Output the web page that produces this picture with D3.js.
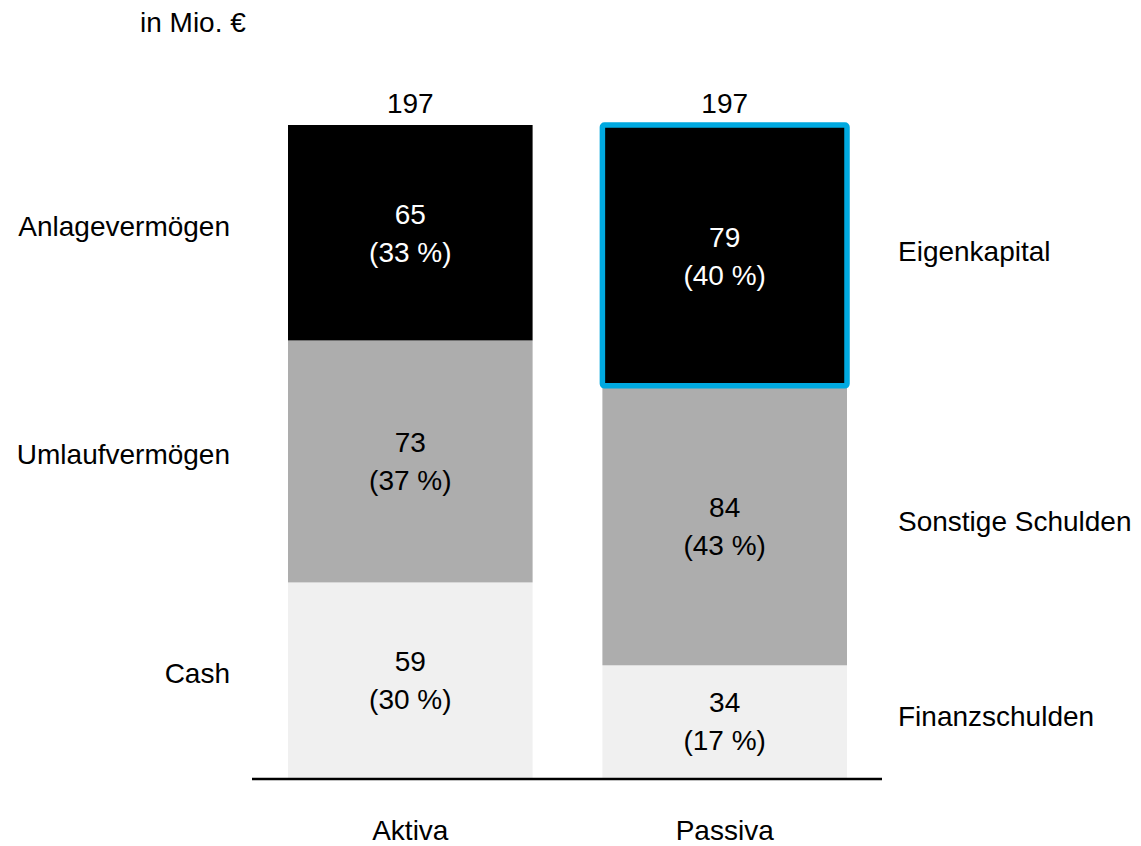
<!DOCTYPE html>
<html>
<head>
<meta charset="utf-8">
<script src="https://cdn.jsdelivr.net/npm/d3@7"></script>
<style>
  html, body { margin: 0; padding: 0; background: #fff; }
  svg text { font-family: "Liberation Sans", Arial, sans-serif; font-size: 28px; }
</style>
</head>
<body>
<svg id="chart" width="1141" height="846"></svg>
<script>
const categories = ["Aktiva", "Passiva"];
const totals = [197, 197];
const aktivaLabels = ["Cash", "Umlaufvermögen", "Anlagevermögen"];
const aktivaValues = [59, 73, 65];
const aktivaPct = [30, 37, 33];
const passivaLabels = ["Finanzschulden", "Sonstige Schulden", "Eigenkapital"];
const passivaValues = [34, 84, 79];
const passivaPct = [17, 43, 40];
const unitLabel = "in Mio. €";
const highlighted = { category: "Passiva", label: "Eigenkapital" };

const layerColors = ["#f0f0f0", "#adadad", "#000000"];
const layerTextColors = ["#000000", "#000000", "#ffffff"];

const svg = d3.select("#chart");

const x = d3.scaleBand().domain(categories).range([288, 847]).paddingInner(0.222).paddingOuter(0);
const y = d3.scaleLinear().domain([0, 197]).range([778, 125]);

const series = [
  { cat: "Aktiva", labels: aktivaLabels, values: aktivaValues, pct: aktivaPct, side: "left" },
  { cat: "Passiva", labels: passivaLabels, values: passivaValues, pct: passivaPct, side: "right" }
];

series.forEach((s, si) => {
  let cum = 0;
  const segs = s.values.map((v, i) => {
    const seg = { y0: cum, y1: cum + v, v, p: s.pct[i], label: s.labels[i], i };
    cum += v;
    return seg;
  });
  const g = svg.append("g");
  g.selectAll("rect.seg").data(segs).join("rect")
    .attr("class", "seg")
    .attr("x", x(s.cat))
    .attr("width", x.bandwidth())
    .attr("y", d => y(d.y1))
    .attr("height", d => y(d.y0) - y(d.y1))
    .attr("fill", d => layerColors[d.i]);

  // value labels
  segs.forEach(d => {
    const mid = (y(d.y0) + y(d.y1)) / 2;
    const cx = x(s.cat) + x.bandwidth() / 2;
    g.append("text").attr("x", cx).attr("y", mid - 19).attr("dy", "0.35em")
      .attr("text-anchor", "middle").attr("fill", layerTextColors[d.i]).text(d.v);
    g.append("text").attr("x", cx).attr("y", mid + 19).attr("dy", "0.35em")
      .attr("text-anchor", "middle").attr("fill", layerTextColors[d.i]).text("(" + d.p + " %)");
    // category labels
    if (s.side === "left") {
      g.append("text").attr("x", x(s.cat) - 58).attr("y", mid - 7).attr("dy", "0.35em")
        .attr("text-anchor", "end").attr("fill", "#000").text(d.label);
    } else {
      g.append("text").attr("x", x(s.cat) + x.bandwidth() + 51).attr("y", mid - 5).attr("dy", "0.35em")
        .attr("text-anchor", "start").attr("fill", "#000").text(d.label);
    }
    if (s.cat === highlighted.category && d.label === highlighted.label) {
      svg.append("rect")
        .attr("x", x(s.cat))
        .attr("width", x.bandwidth())
        .attr("y", y(d.y1))
        .attr("height", y(d.y0) - y(d.y1) - 1)
        .attr("fill", "none")
        .attr("stroke", "#00a9e0")
        .attr("stroke-width", 5.5)
        .attr("rx", 2);
    }
  });

  // totals
  svg.append("text").attr("x", x(s.cat) + x.bandwidth() / 2).attr("y", y(totals[si]) - 22).attr("dy", "0.35em")
    .attr("text-anchor", "middle").attr("fill", "#000").text(totals[si]);
});

// baseline
svg.append("line").attr("x1", 252).attr("x2", 882).attr("y1", y(0) + 1).attr("y2", y(0) + 1)
  .attr("stroke", "#000").attr("stroke-width", 2.5);

// x-axis labels
const xAxis = d3.axisBottom(x).tickSize(0).tickPadding(0);
const ax = svg.append("g").attr("transform", `translate(0, ${y(0) + 42})`).call(xAxis);
ax.select(".domain").remove();
ax.selectAll("text").attr("font-size", 28).attr("font-family", "Liberation Sans, Arial, sans-serif").attr("fill", "#000");

// unit label
svg.append("text").attr("x", 140).attr("y", 22).attr("dy", "0.35em").attr("fill", "#000").text(unitLabel);
</script>
</body>
</html>
